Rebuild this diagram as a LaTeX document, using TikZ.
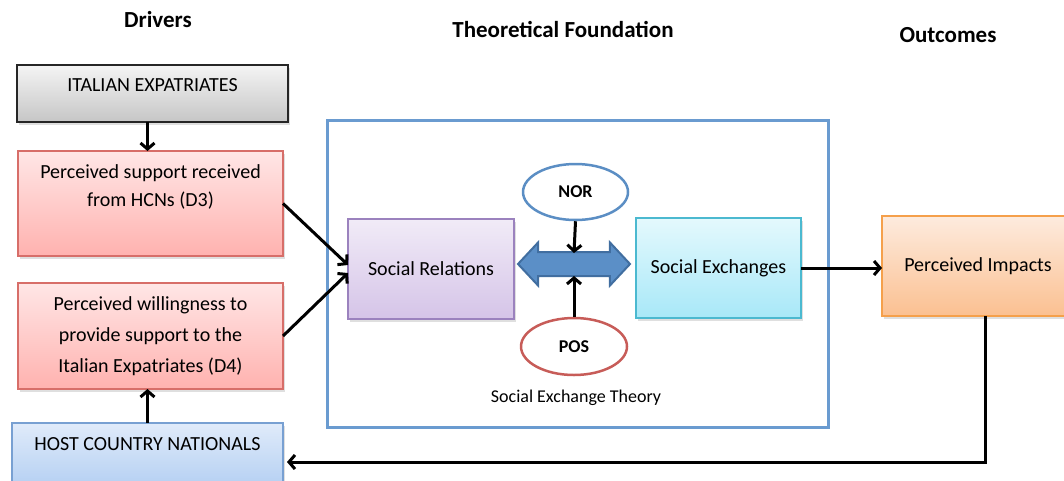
\documentclass[tikz,border=0pt]{standalone}
\usepackage{fontspec}
\setmainfont{Carlito}
\usetikzlibrary{arrows.meta,shapes.geometric,shapes.arrows,shadows}

\definecolor{frameblue}{RGB}{106,155,208}
\definecolor{norblue}{RGB}{91,142,196}
\definecolor{posred}{RGB}{199,92,88}
\definecolor{linkfill}{RGB}{91,143,199}
\definecolor{linkline}{RGB}{65,110,160}
\definecolor{drvtop}{RGB}{255,230,230}
\definecolor{drvbot}{RGB}{255,178,175}
\definecolor{drvline}{RGB}{215,110,105}
\definecolor{ietop}{RGB}{244,244,244}
\definecolor{iebot}{RGB}{198,198,198}
\definecolor{hcntop}{RGB}{224,235,250}
\definecolor{hcnbot}{RGB}{178,206,242}
\definecolor{hcnline}{RGB}{120,160,210}
\definecolor{srtop}{RGB}{241,235,247}
\definecolor{srbot}{RGB}{213,196,232}
\definecolor{srline}{RGB}{155,130,190}
\definecolor{setop}{RGB}{228,249,253}
\definecolor{sebot}{RGB}{168,232,248}
\definecolor{seline}{RGB}{75,185,208}
\definecolor{pitop}{RGB}{253,235,222}
\definecolor{pibot}{RGB}{251,192,145}
\definecolor{piline}{RGB}{245,160,75}

\tikzset{
  box/.style={draw, line width=1.4pt, inner sep=0pt, outer sep=0pt, align=center,
    font=\fontsize{20}{28}\selectfont,
    drop shadow={opacity=0.25, shadow xshift=2pt, shadow yshift=-3pt}},
  drvbox/.style={box, draw=drvline, top color=drvtop, bottom color=drvbot,
    minimum width=265pt},
  midbox/.style={box, minimum width=166pt, minimum height=100pt},
  oval/.style={ellipse, draw, line width=2.5pt, fill=white, inner sep=0pt,
    minimum width=105pt, minimum height=56pt, font=\fontsize{18}{22}\selectfont\bfseries},
  head/.style={font=\fontsize{23}{28}\selectfont\bfseries},
  conn/.style={line width=3pt, -{Straight Barb[length=6pt,width=14pt]}},
}

\begin{document}
\begin{tikzpicture}[x=1pt, y=-1pt]
  \useasboundingbox (0,0) rectangle (1064,480);

  % headings
  \node[head] (drivers) at (158,20) {Drivers};
  \node[head] (theory) at (563,29) {Theoretical Foundation};
  \node[head] (outcomes) at (948,35) {Outcomes};

  % drivers column
  \node[box, draw=black!85, top color=ietop, bottom color=iebot, anchor=north,
    minimum width=271pt, text height=26.4pt, text depth=30.6pt]
    (ie) at (152.5,65) {ITALIAN EXPATRIATES};
  \node[drvbox, minimum height=105pt] (d3) at (150.5,203.5)
    {Perceived support received\\from HCNs (D3)\\[7pt] \mbox{}};
  \node[drvbox, minimum height=106pt, font=\fontsize{20}{31}\selectfont] (d4) at (150.5,336)
    {Perceived willingness to\\provide support to the\\Italian Expatriates (D4)};
  \node[box, draw=hcnline, top color=hcntop, bottom color=hcnbot, anchor=north,
    minimum width=271pt, text height=27.4pt, text depth=40pt]
    (hcn) at (147.5,423) {HOST COUNTRY NATIONALS};

  % theoretical foundation
  \draw[frameblue, line width=3pt] (327,120) rectangle (828,427);
  \node[midbox, draw=srline, top color=srtop, bottom color=srbot] (sr) at (431,269) {Social Relations};
  \node[midbox, draw=seline, top color=setop, bottom color=sebot, minimum width=165pt] (se) at (718.5,268) {Social Exchanges};
  \node[double arrow, draw=linkline, fill=linkfill, line width=2pt, inner sep=11pt,
    minimum height=112pt, double arrow head extend=9.5pt, double arrow tip angle=94]
    (link) at (574,264) {};
  \coordinate (linktop) at ([yshift=11pt]link.center);
  \coordinate (linkbot) at ([yshift=-12pt]link.center);
  \node[oval, draw=norblue] (nor) at (575.5,192) {NOR};
  \node[oval, draw=posred, minimum width=106pt, minimum height=57pt] (pos) at (574,346.5) {POS};
  \node[font=\fontsize{18}{22}\selectfont] (setheory) at (576,398) {Social Exchange Theory};

  % outcomes
  \node[box, draw=piline, top color=pitop, bottom color=pibot,
    minimum width=192pt, minimum height=100pt] (pi) at (978,266) {Perceived Impacts};
  \coordinate (back) at (985,462);

  % connectors
  \draw[conn] (ie.south -| hcn.north) -- (d3.north -| hcn.north);
  \draw[conn] (hcn.north) -- (hcn.north |- d4.south);
  \draw[conn] (d3.east) -- ([yshift=4pt]sr.west);
  \draw[conn] (d4.east) -- ([yshift=-4pt]sr.west);
  \draw[conn] (nor.south) -- (linktop);
  \draw[conn] (pos.north) -- (linkbot);
  \draw[conn] (se.east) -- (se.east -| pi.west);
  \draw[conn] (pi.south -| back) |- ([xshift=4pt]hcn.east |- back);
\end{tikzpicture}
\end{document}
